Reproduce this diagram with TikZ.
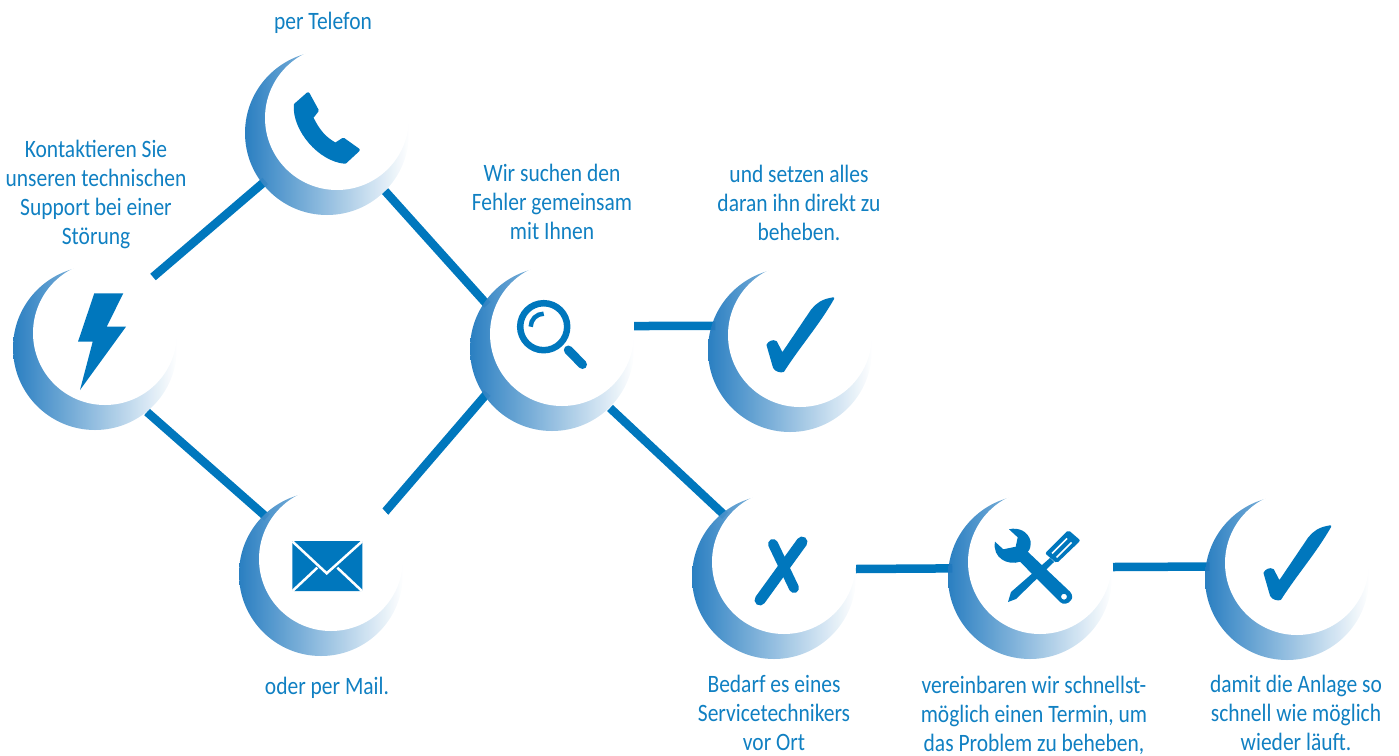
\documentclass[tikz,border=0pt]{standalone}
\usepackage{fontspec}
\setmainfont[FakeStretch=0.86]{Carlito}
\usetikzlibrary{backgrounds}
\definecolor{mainblue}{HTML}{0077BD}
\definecolor{moonblue}{HTML}{1F78BE}
\definecolor{textblue}{HTML}{1080C2}
\tikzset{
    moon/.style = {circle, minimum size=164pt, inner sep=0pt, left color=moonblue, right color=white, fill opacity=.95},
    moonface/.style = {circle, minimum size=144pt, inner sep=0pt, fill=white},
    link/.style = {draw=mainblue, line width=8.5pt, shorten >=-4pt},
    icon/.style = {fill=mainblue, draw=none},
    cutout/.style = {draw=white, line width=2.5pt},
    caption/.style = {align=center, text=textblue, inner sep=0pt, font=\fontsize{25}{29}\selectfont}
}
\begin{document}
\begin{tikzpicture}[x=1pt,y=-1pt]
    \useasboundingbox (0,0) rectangle (1399,755);
    \node [moon] (power) at (95,348) {};
    \node [moonface] (powerface) at (105,333) {};
    \node [moon] (phone) at (327,133) {};
    \node [moonface] (phoneface) at (337,118) {};
    \node [moon] (mail) at (321,574) {};
    \node [moonface] (mailface) at (331,559) {};
    \node [moon] (search) at (552,349) {};
    \node [moonface] (searchface) at (562,334) {};
    \node [moon] (fixed) at (790,350) {};
    \node [moonface] (fixedface) at (800,335) {};
    \node [moon] (onsite) at (774,577) {};
    \node [moonface] (onsiteface) at (784,562) {};
    \node [moon] (tools) at (1030,577) {};
    \node [moonface] (toolsface) at (1040,562) {};
    \node [moon] (done) at (1287,578) {};
    \node [moonface] (doneface) at (1297,563) {};
    \coordinate (powerup) at (153,277);
    \coordinate (powerdown) at (147,412);
    \coordinate (phoneout) at (385,191);
    \coordinate (mailout) at (385,512);
    \coordinate (searchright) at (634,326);
    \coordinate (searchdown) at (610,408);
    \coordinate (onsiteout) at (855,569);
    \coordinate (toolsout) at (1113,567);
    \begin{scope}[on background layer]
        \draw [link] (powerup) -- (phone.218);
        \draw [link] (powerdown) -- (mail.134);
        \draw [link] (phoneout) -- (search.145);
        \draw [link] (mailout) -- (search.215);
        \draw [link] (searchright) -- (fixed.163);
        \draw [link] (searchdown) -- (onsite.129);
        \draw [link] (onsiteout) -- (tools.174);
        \draw [link] (toolsout) -- (done.172);
    \end{scope}
    % icons
    \fill [icon] (94.3,293.3) -- (123.3,293.3) -- (106.7,326.7) -- (126,326.7) -- (80,390) -- (92.7,341.7) -- (78,341.7) -- cycle;
    \draw [icon, draw=mainblue, line width=3.5pt, line join=round] (295.5,105) -- (308,94) -- (317,110.5) -- (311.5,117.5) .. controls (318,131) and (325,139) .. (335.5,144.5) -- (343.3,139.5) -- (358,150) -- (345,162) .. controls (320,160) and (294,130) .. (295.5,105) -- cycle;
    \fill [icon, rounded corners=.8pt] (292.3,541) rectangle (362.3,591);
    \draw [cutout] (292.5,541.5) -- (326.7,573.3) -- (362,541.5);
    \draw [cutout] (292.5,591) -- (317.3,567.7);
    \draw [cutout] (362,591) -- (337.3,567.7);
    \draw [draw=mainblue, line width=6.5pt] (543.7,326.7) circle (23.5);
    \draw [draw=mainblue, line width=9pt, line cap=round] (568.3,350) -- (582.5,364.5);
    \draw [draw=mainblue, line width=4.5pt] (530.7,326.7) arc (180:270:13);
    \foreach \dx/\dy in {0/0,497/228}
        \draw [icon, draw=mainblue, line width=2pt, line join=round, shift={(\dx,\dy)}] (833.3,298.3) .. controls (822,300) and (817,304) .. (812,310) -- (782.3,354) -- (776,342) .. controls (773,340) and (769,342) .. (767.5,345) -- (774,367.5) .. controls (776,371) and (781,372) .. (783.3,371) .. controls (800,345) and (818,325) .. (833.3,298.3) -- cycle;
    \draw [draw=mainblue, line width=10pt, line cap=round] (773,544) -- (794,588);
    \draw [draw=mainblue, line width=11pt, line cap=round] (802,542) -- (760,600);
    \fill [icon] (1050,558) -- (1054,562) -- (1016,599) -- (1008,602) -- (1011,592) -- cycle;
    \fill [icon, rounded corners=2pt] (1045,553.3) -- (1068.3,530) -- (1080.5,540.5) -- (1056.7,563.3) -- cycle;
    \draw [draw=white, line width=1.5pt] (1052,553.5) -- (1067,538.5);
    \draw [draw=white, line width=1.5pt] (1056.5,557.5) -- (1071.5,542.5);
    \fill [icon, even odd rule] (1009,529.3) .. controls (1018,527) and (1028,531) .. (1030.5,541) .. controls (1031,546) and (1030,550) .. (1027.7,551.7) -- (1070,591.7) .. controls (1073,595) and (1072.5,599) .. (1071,600) .. controls (1069,604) and (1063,605) .. (1060,602) -- (1020,561.7) .. controls (1008,566) and (992,558) .. (995,541.7) -- (1003.3,549.3) -- (1015.7,546.7) -- (1017.7,537.3) -- cycle (1064,596.7) circle (3);
    % captions
    \node [caption] (powertext) at (96,194) {Kontaktieren Sie\\unseren technischen\\Support bei einer\\St\"orung};
    \node [caption] (phonetext) at (323,23) {per Telefon};
    \node [caption] (mailtext) at (327,688) {oder per Mail.};
    \node [caption] (searchtext) at (552,202) {Wir suchen den\\Fehler gemeinsam\\mit Ihnen};
    \node [caption] (fixedtext) at (799,203) {und setzen alles\\daran ihn direkt zu\\beheben.};
    \node [caption] (onsitetext) at (774,713) {Bedarf es eines\\Servicetechnikers\\vor Ort};
    \node [caption] (toolstext) at (1034,715) {vereinbaren wir schnellst-\\m\"oglich einen Termin, um\\das Problem zu beheben,};
    \node [caption] (donetext) at (1296,713) {damit die Anlage so\\schnell wie m\"oglich\\wieder l\"auft.};
\end{tikzpicture}
\end{document}
